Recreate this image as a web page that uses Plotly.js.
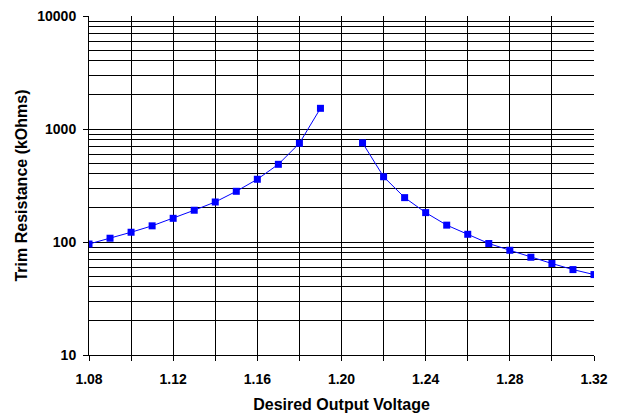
<!DOCTYPE html>
<html>
<head>
<meta charset="utf-8">
<script src="https://cdn.plot.ly/plotly-3.0.1.min.js"></script>
<style>html,body{margin:0;padding:0;background:#fff;}#chart{width:623px;height:414px;}</style>
</head>
<body>
<div id="chart"></div>
<script>
const voltage = [1.08,1.09,1.10,1.11,1.12,1.13,1.14,1.15,1.16,1.17,1.18,1.19,1.20,1.21,1.22,1.23,1.24,1.25,1.26,1.27,1.28,1.29,1.30,1.31,1.32];
const resistance = [96,108,122,139,162,191,226,281,359,487,747,1524,null,754,378,247,182,141,117,97,84.5,73.3,64.5,57,51.5];
const xMajorTicks = [1.08,1.12,1.16,1.20,1.24,1.28,1.32];
const xMajorLabels = ['1.08','1.12','1.16','1.20','1.24','1.28','1.32'];
const xMinorTicks = [1.10,1.14,1.18,1.22,1.26,1.30];
const yMajorTicks = [10,100,1000,10000];
const yMajorLabels = ['10','100','1000','10000'];
const yMinorTicks = [];
[10,100,1000].forEach(d => { for (let k = 2; k <= 9; k++) yMinorTicks.push(d*k); });

const fam = 'Liberation Sans, Arial, sans-serif';

Plotly.newPlot('chart', [{
  x: voltage, y: resistance, type: 'scatter', mode: 'lines+markers',
  connectgaps: false,
  line: {color: '#0000FF', width: 1},
  marker: {symbol: 'square', size: 7, color: '#0000FF'}
}], {
  width: 623, height: 414,
  margin: {l: 89, r: 29, t: 16, b: 59},
  paper_bgcolor: '#fff', plot_bgcolor: '#fff',
  showlegend: false,
  font: {family: fam, size: 14, color: '#000'},
  xaxis: {
    range: [1.08, 1.32],
    tickvals: xMajorTicks, ticktext: xMajorLabels,
    ticks: 'outside', ticklen: 5, tickcolor: '#000', tickwidth: 1,
    ticklabelstandoff: 6,
    tickfont: {family: fam, size: 14, color: '#000', weight: 'bold'},
    showgrid: true, gridcolor: '#000', gridwidth: 1,
    showline: true, linecolor: '#000', linewidth: 1,
    zeroline: false,
    minor: {tickvals: xMinorTicks, showgrid: true, gridcolor: '#000', gridwidth: 1, ticks: 'outside', ticklen: 5, tickcolor: '#000'},
    title: {text: '<b>Desired Output Voltage</b>', font: {family: fam, size: 16, color: '#000'}, standoff: 13}
  },
  yaxis: {
    type: 'log',
    range: [1, 4],
    tickvals: yMajorTicks, ticktext: yMajorLabels,
    ticks: 'outside', ticklen: 5, tickcolor: '#000', tickwidth: 1,
    ticklabelstandoff: 4,
    tickfont: {family: fam, size: 14, color: '#000', weight: 'bold'},
    showgrid: true, gridcolor: '#000', gridwidth: 1,
    showline: true, linecolor: '#000', linewidth: 1,
    zeroline: false,
    minor: {tickvals: yMinorTicks, showgrid: true, gridcolor: '#000', gridwidth: 1, ticks: ''},
    title: {text: '<b>Trim Resistance (kOhms)</b>', font: {family: fam, size: 16, color: '#000'}, standoff: 5}
  }
}, {displayModeBar: false, staticPlot: true});
</script>
</body>
</html>
